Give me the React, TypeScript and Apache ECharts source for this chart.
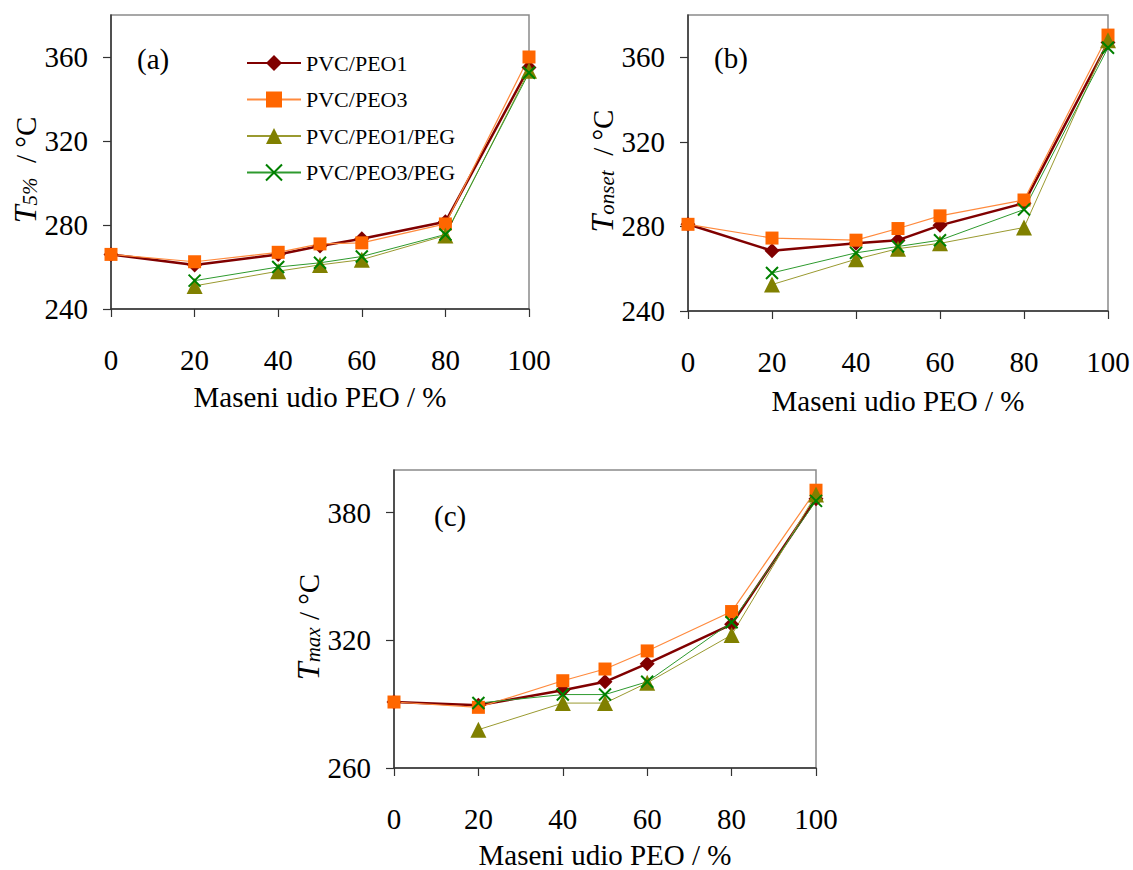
import React, { useEffect, useRef } from "react";
import * as echarts from "echarts";

const xAll = [0, 20, 40, 50, 60, 80, 100];
const xPeg = [20, 40, 50, 60, 80, 100];
const xTicks = [0, 20, 40, 60, 80, 100];

const seriesNames = ["PVC/PEO1", "PVC/PEO3", "PVC/PEO1/PEG", "PVC/PEO3/PEG"];

// Panel (a): T5%
const aPEO1 = [266, 261, 266, 270, 273.5, 281.5, 355];
const aPEO3 = [266, 262.5, 267, 271, 271.5, 280.5, 360];
const aPEO1PEG = [251, 258, 261, 263.5, 275, 353.5];
const aPEO3PEG = [253.5, 260, 262, 265, 275.5, 352.5];

// Panel (b): Tonset
const bPEO1 = [281, 268.5, 272, 273.5, 280.5, 291, 367];
const bPEO3 = [281, 274.5, 273.5, 279, 285, 292.5, 370.5];
const bPEO1PEG = [252.5, 264.5, 269.5, 272, 279.5, 368];
const bPEO3PEG = [258, 267.5, 270.5, 273.5, 288, 364.5];

// Panel (c): Tmax
const cPEO1 = [291, 289.5, 296.5, 300.5, 309, 327.5, 386.5];
const cPEO3 = [291, 288.5, 301, 306.5, 315, 333.5, 390.5];
const cPEO1PEG = [278, 290.5, 290.5, 300, 322.5, 388.5];
const cPEO3PEG = [290.5, 294.5, 294.5, 300.5, 328.5, 385.5];

const yTicksAB = [240, 280, 320, 360];
const yTicksC = [260, 320, 380];

const FONT = '"Liberation Serif", "Times New Roman", serif';

const pair = (xs: number[], ys: number[]) => xs.map((x, i) => [x, ys[i]]);

const styles = [
  { symbol: "diamond", symbolSize: 15, color: "#800000", line: "#800000", width: 2.5 },
  { symbol: "rect", symbolSize: 13, color: "#FF6600", line: "#FF8A3D", width: 1.2 },
  { symbol: "triangle", symbolSize: 16, color: "#808000", line: "#9A9A30", width: 1 },
  { symbol: "path://M0,0L10,10M10,0L0,10", symbolSize: 12, color: "#008000", line: "#2E9A2E", width: 1 },
];

function makeSeries(idx: number, ys: number[][]) {
  return ys.map((d, k) => {
    const s = styles[k];
    const xs = d.length === xAll.length ? xAll : xPeg;
    const isX = k === 3;
    return {
      type: "line",
      name: seriesNames[k],
      xAxisIndex: idx,
      yAxisIndex: idx,
      data: pair(xs, d),
      symbol: s.symbol,
      symbolSize: s.symbolSize,
      showSymbol: true,
      clip: false,
      lineStyle: { color: s.line, width: s.width },
      itemStyle: isX
        ? { color: s.color, borderColor: s.color, borderWidth: 2 }
        : { color: s.color, borderWidth: 0 },
      emphasis: { disabled: true },
    };
  });
}

function xAxis(idx: number, labelMargin: number, nameGap: number) {
  return {
    type: "value",
    gridIndex: idx,
    min: 0,
    max: 100,
    interval: 20,
    name: "Maseni udio PEO / %",
    nameLocation: "middle",
    nameGap,
    nameTextStyle: { fontFamily: FONT, fontSize: 29, color: "#000" },
    axisLine: { show: true, lineStyle: { color: "#333", width: 1.5 } },
    axisTick: { show: true, inside: false, length: 8, lineStyle: { color: "#333", width: 1.2 } },
    axisLabel: { margin: labelMargin, fontFamily: FONT, fontSize: 29, color: "#000", customValues: xTicks },
    splitLine: { show: false },
  };
}

function yAxis(idx: number, min: number, max: number, interval: number, ticks: number[], name: string, nameGap: number) {
  return {
    type: "value",
    gridIndex: idx,
    min,
    max,
    interval,
    name,
    nameLocation: "middle",
    nameRotate: 90,
    nameGap,
    nameTextStyle: {
      fontFamily: FONT,
      color: "#000",
      padding: [0, 16, 0, 0],
      rich: {
        t: { fontFamily: FONT, fontSize: 32, fontStyle: "italic", color: "#000", lineHeight: 32, verticalAlign: "bottom" },
        s: { fontFamily: FONT, fontSize: 21, fontStyle: "italic", color: "#000", lineHeight: 12, verticalAlign: "bottom" },
        u: { fontFamily: FONT, fontSize: 29, color: "#000", lineHeight: 32, verticalAlign: "bottom" },
      },
    },
    axisLine: { show: true, lineStyle: { color: "#333", width: 1.5 } },
    axisTick: { show: true, inside: false, length: 8, lineStyle: { color: "#333", width: 1.2 }, customValues: ticks },
    axisLabel: { margin: 23, fontFamily: FONT, fontSize: 29, color: "#000", customValues: ticks },
    splitLine: { show: false },
  };
}

export default function App() {
  const ref = useRef<HTMLDivElement>(null);
  useEffect(() => {
    if (!ref.current) return;
    const chart = echarts.init(ref.current, null, { renderer: "svg" });
    const gridStyle = { show: true, borderColor: "#8a8a8a", borderWidth: 1.5, backgroundColor: "transparent" };
    chart.setOption({
      animation: false,
      backgroundColor: "#fff",
      grid: [
        { left: 111, top: 15, width: 418, height: 294, ...gridStyle },
        { left: 688, top: 15, width: 420, height: 296, ...gridStyle },
        { left: 394, top: 470, width: 422, height: 299, ...gridStyle },
      ],
      xAxis: [xAxis(0, 36, 73), xAxis(1, 36, 75), xAxis(2, 36, 72)],
      yAxis: [
        yAxis(0, 240, 380, 40, yTicksAB, "{t|T}{s|5%}{u|  / °C}", 66),
        yAxis(1, 240, 380, 40, yTicksAB, "{t|T}{s|onset}{u|  / °C}", 66),
        yAxis(2, 260, 400, 60, yTicksC, "{t|T}{s|max}{u| / °C}", 66),
      ],
      legend: {
        show: true,
        orient: "vertical",
        left: 241,
        top: 47,
        itemWidth: 54,
        itemHeight: 20,
        itemGap: 14.5,
        data: seriesNames,
        textStyle: { fontFamily: FONT, fontSize: 22, color: "#000", lineHeight: 22 },
        selectedMode: false,
      },
      graphic: [
        { type: "text", left: 137, top: 44, style: { text: "(a)", font: `29px ${FONT}`, fill: "#000" } },
        { type: "text", left: 714, top: 43, style: { text: "(b)", font: `29px ${FONT}`, fill: "#000" } },
        { type: "text", left: 434, top: 501, style: { text: "(c)", font: `29px ${FONT}`, fill: "#000" } },
      ],
      series: [
        ...makeSeries(0, [aPEO1, aPEO3, aPEO1PEG, aPEO3PEG]),
        ...makeSeries(1, [bPEO1, bPEO3, bPEO1PEG, bPEO3PEG]),
        ...makeSeries(2, [cPEO1, cPEO3, cPEO1PEG, cPEO3PEG]),
      ],
    });
    return () => chart.dispose();
  }, []);
  return (
    <div
      ref={ref}
      style={{ position: "absolute", left: 0, top: 0, width: 1133, height: 870, background: "#fff" }}
    />
  );
}
